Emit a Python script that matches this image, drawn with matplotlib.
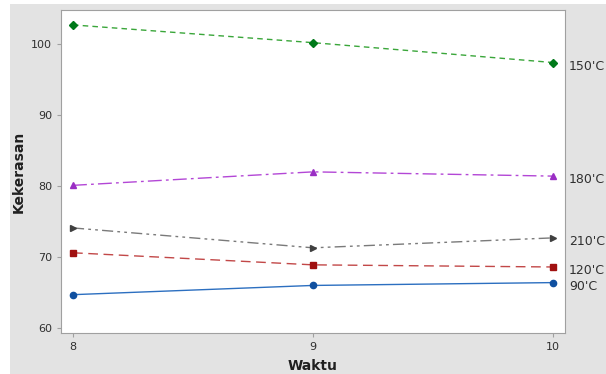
import matplotlib.pyplot as plt
from matplotlib.patches import Rectangle

# Data
waktu = [8, 9, 10]
temps = ["150'C", "180'C", "210'C", "120'C", "90'C"]
vals_150 = [102.7, 100.2, 97.4]
vals_180 = [80.1, 82.0, 81.4]
vals_210 = [74.1, 71.3, 72.7]
vals_120 = [70.6, 68.9, 68.6]
vals_90 = [64.7, 66.0, 66.4]

series = [
    (vals_150, temps[0], '#3aa63a', '#007a1a', 'D', (0, (4, 3))),
    (vals_180, temps[1], '#b347d6', '#9a2ec4', '^', (0, (10, 3, 2, 3))),
    (vals_210, temps[2], '#7a7a7a', '#404040', '>', (0, (8, 3, 2, 3, 2, 3))),
    (vals_120, temps[3], '#c24848', '#a01010', 's', (0, (7, 4))),
    (vals_90, temps[4], '#2c6fc0', '#1050a0', 'o', '-'),
]

fig = plt.figure(figsize=(6.06, 3.74), dpi=100)
fig.patch.set_facecolor('white')
# gray panel behind the plot, with a thin white margin on left/top
bg = Rectangle((10 / 606, 0), 1, 1 - 4 / 374, transform=fig.transFigure,
               facecolor='#e3e3e3', edgecolor='none', zorder=-10)
fig.add_artist(bg)

ax = fig.add_axes([61 / 606, 1 - 333 / 374, 504 / 606, 323 / 374])
ax.set_facecolor('white')

for vals, label, lc, mc, mk, ls in series:
    ax.plot(waktu, vals, color=lc, linestyle=ls, linewidth=1.0, zorder=2)
    ax.plot(waktu, vals, linestyle='none', marker=mk, color=mc,
            markersize=4.5 if mk != 'D' else 4, zorder=3)
    ax.annotate(label, xy=(1, vals[-1]), xycoords=('axes fraction', 'data'),
                xytext=(3, -2.5), textcoords='offset points', va='center', ha='left',
                fontsize=9, color='#303030', annotation_clip=False)

ax.set_xlim(7.95, 10.05)
ax.set_ylim(59.3, 104.8)
ax.set_xticks(waktu)
ax.set_yticks([60, 70, 80, 90, 100])
ax.tick_params(labelsize=8, colors='#303030', length=3, color='#a0a0a0')
for sp in ax.spines.values():
    sp.set_color('#a0a0a0')

ax.set_xlabel('Waktu', fontsize=10, fontweight='bold', color='#202020', labelpad=5)
ax.set_ylabel('Kekerasan', fontsize=10, fontweight='bold', color='#202020', labelpad=4)

fig.savefig('out.png', dpi=100, facecolor=fig.get_facecolor())
